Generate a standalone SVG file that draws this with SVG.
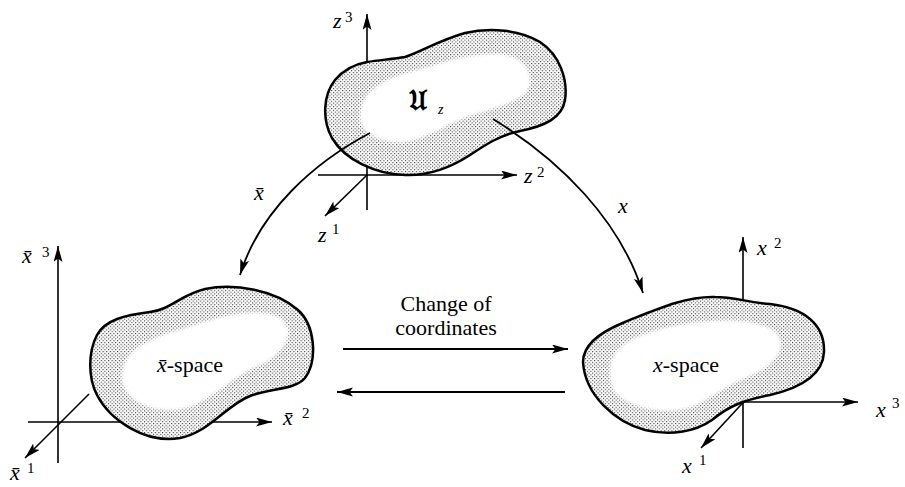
<svg xmlns="http://www.w3.org/2000/svg" xmlns:xlink="http://www.w3.org/1999/xlink" width="905" height="487" viewBox="0 0 905 487">
<defs>
<style>
.ax{stroke:#000;stroke-width:1.6;fill:none}
.arr{stroke:#000;stroke-width:1.8;fill:none}
.outline{fill:none;stroke:#000;stroke-width:2.5;stroke-linejoin:round}
.dots{fill:url(#dots)}
.bg{fill:#fff}
.hole{fill:#fff;filter:url(#soft)}
.var{font-family:'Liberation Serif','DejaVu Serif',serif;font-style:italic;font-size:22px;fill:#000}
.sup{font-family:'Liberation Serif','DejaVu Serif',serif;font-size:15px;fill:#000}
.lbl{font-family:'Liberation Serif','DejaVu Serif',serif;font-size:22px;fill:#000}
.frak{font-family:'DejaVu Serif','DejaVu Sans',serif;font-size:28px;font-weight:bold;fill:#000}
</style>
<pattern id="dots" width="3.6" height="3.6" patternUnits="userSpaceOnUse">
<rect x="0" y="0" width="1.1" height="1.1" fill="#333"/>
<rect x="1.8" y="1.8" width="1.1" height="1.1" fill="#333"/>
</pattern>
<filter id="soft" x="-20%" y="-20%" width="140%" height="140%"><feGaussianBlur stdDeviation="1.8"/></filter>
<marker id="ah" markerUnits="userSpaceOnUse" markerWidth="18" markerHeight="10" refX="16" refY="4.5" orient="auto"><path d="M0,0 L16,4.5 L0,9 L3.5,4.5 Z" fill="#000"/></marker>
<path id="blobZ" d="M 367,62 C 380,60 393,59 405,57 C 420,52 440,40 465,33 C 490,27 520,30 540,42 C 560,55 568,80 565,100 C 562,118 545,126 520,131 C 500,135 485,145 470,155 C 450,168 430,176 405,175 C 375,174 345,160 332,138 C 322,120 323,95 335,80 C 345,68 356,64 367,62 Z"/>
<path id="holeZ" d="M 360,115 C 362,92 380,80 410,72 C 440,64 470,52 500,54 C 525,56 535,75 528,90 C 520,102 495,108 470,116 C 450,122 430,138 405,142 C 380,144 358,132 360,115 Z"/>
<path id="blobXb" d="M 97,335 C 105,320 125,315 150,312 C 170,310 180,295 205,289 C 235,283 275,290 298,310 C 315,325 318,360 305,378 C 295,390 270,388 250,396 C 225,406 210,432 180,438 C 145,444 110,420 97,395 C 88,378 88,352 97,335 Z"/>
<path id="holeXb" d="M 122,380 C 120,350 150,338 185,328 C 215,318 255,305 280,318 C 298,330 285,355 258,366 C 235,376 220,392 195,405 C 165,418 125,405 122,380 Z"/>
<path id="blobX" d="M 583,362 C 583,345 600,332 625,322 C 655,310 685,296 715,297 C 735,297 745,302 770,304 C 805,308 825,325 824,352 C 823,375 800,388 770,395 C 745,400 730,405 712,420 C 695,432 670,436 645,430 C 615,422 585,395 583,362 Z"/>
<path id="holeX" d="M 610,372 C 608,345 640,332 680,325 C 720,318 765,318 778,335 C 788,352 770,368 748,377 C 725,386 712,398 692,407 C 665,416 628,408 615,392 C 611,386 610,380 610,372 Z"/>
</defs>
<rect width="905" height="487" fill="#fff"/>

<g id="axes-z">
<line class="ax" x1="367" y1="210" x2="367" y2="14" marker-end="url(#ah)"/>
<line class="ax" x1="318" y1="175" x2="517" y2="175" marker-end="url(#ah)"/>
<line class="ax" x1="367" y1="175" x2="325" y2="216" marker-end="url(#ah)"/>
</g>
<g id="axes-xbar">
<line class="ax" x1="58" y1="463" x2="58" y2="246" marker-end="url(#ah)"/>
<line class="ax" x1="28" y1="422" x2="272" y2="422" marker-end="url(#ah)"/>
<line class="ax" x1="89" y1="394" x2="25" y2="458" marker-end="url(#ah)"/>
</g>
<g id="axes-x">
<line class="ax" x1="743" y1="448" x2="743" y2="237" marker-end="url(#ah)"/>
<line class="ax" x1="723" y1="402" x2="858" y2="402" marker-end="url(#ah)"/>
<line class="ax" x1="751" y1="394" x2="701" y2="448" marker-end="url(#ah)"/>
</g>

<g id="node-uz">
<use xlink:href="#blobZ" class="bg"/>
<use xlink:href="#blobZ" class="dots"/>
<use xlink:href="#holeZ" class="hole"/>
<use xlink:href="#blobZ" class="outline"/>
<text class="frak" x="409" y="110">&#x1D518;</text>
<text class="var" x="438" y="114" style="font-size:14px">z</text>
</g>

<g id="node-xbar-space">
<use xlink:href="#blobXb" class="bg"/>
<use xlink:href="#blobXb" class="dots"/>
<use xlink:href="#holeXb" class="hole"/>
<use xlink:href="#blobXb" class="outline"/>
<text class="lbl" x="157" y="372"><tspan font-style="italic">x&#x304;</tspan>-space</text>
</g>

<g id="node-x-space">
<use xlink:href="#blobX" class="bg"/>
<use xlink:href="#blobX" class="dots"/>
<use xlink:href="#holeX" class="hole"/>
<use xlink:href="#blobX" class="outline"/>
<text class="lbl" x="653" y="372"><tspan font-style="italic">x</tspan>-space</text>
</g>

<g id="connectors">
<path class="arr" d="M 370,133 C 315,162 260,210 240,275" marker-end="url(#ah)"/>
<path class="arr" d="M 493,119 C 560,160 620,220 643,293" marker-end="url(#ah)"/>
<line class="arr" x1="343" y1="349" x2="568" y2="349" marker-end="url(#ah)"/>
<line class="arr" x1="565" y1="392" x2="337" y2="392" marker-end="url(#ah)"/>
</g>

<g id="labels">
<text class="var" x="333" y="28">z</text><text class="sup" x="345" y="22">3</text>
<text class="var" x="524" y="183">z</text><text class="sup" x="537" y="177">2</text>
<text class="var" x="318" y="242">z</text><text class="sup" x="332" y="234">1</text>
<text class="var" x="254" y="200">x&#x304;</text>
<text class="var" x="618" y="213">x</text>
<text class="lbl" x="446" y="311" text-anchor="middle">Change of</text>
<text class="lbl" x="446" y="335" text-anchor="middle">coordinates</text>
<text class="var" x="22" y="263">x&#x304;</text><text class="sup" x="42" y="257">3</text>
<text class="var" x="283" y="425">x&#x304;</text><text class="sup" x="302" y="418">2</text>
<text class="var" x="10" y="480">x&#x304;</text><text class="sup" x="27" y="473">1</text>
<text class="var" x="757" y="255">x</text><text class="sup" x="774" y="248">2</text>
<text class="var" x="876" y="417">x</text><text class="sup" x="892" y="408">3</text>
<text class="var" x="682" y="473">x</text><text class="sup" x="699" y="465">1</text>
</g>
</svg>
